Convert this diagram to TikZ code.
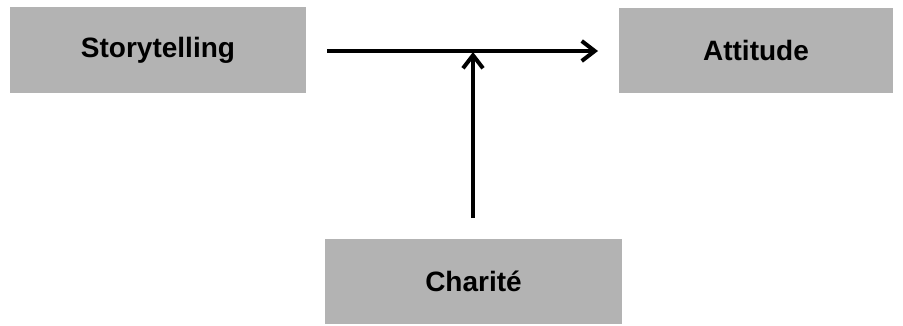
\documentclass[tikz,border=0pt]{standalone}
\usepackage{fontspec}
\setmainfont{Liberation Sans}
\usetikzlibrary{arrows.meta}
\definecolor{boxgray}{HTML}{B3B3B3}
\tikzset{
  box/.style={fill=boxgray, draw=none, inner sep=0pt, font=\fontsize{28}{32}\selectfont\bfseries, text=black},
  conn/.style={line width=4pt, -{Straight Barb[length=13pt,width=20pt,line width=4pt]}}
}
\begin{document}
\begin{tikzpicture}[x=1pt,y=1pt]
\useasboundingbox (0,0) rectangle (903,325);
\node[box, minimum width=296pt, minimum height=86pt] (story) at (158,275) {Storytelling};
\node[box, minimum width=274pt, minimum height=85pt] (att) at (756,274.5) {Attitude};
\node[box, minimum width=297pt, minimum height=85pt] (char) at (473.5,43.5) {Charité};
\coordinate (s) at (327,274);
\coordinate (e) at (598,274);
\coordinate (m) at (473,273);
\coordinate (b) at (473,107);
\draw[conn] (s) -- (e);
\draw[conn] (b) -- (m);
\end{tikzpicture}
\end{document}
